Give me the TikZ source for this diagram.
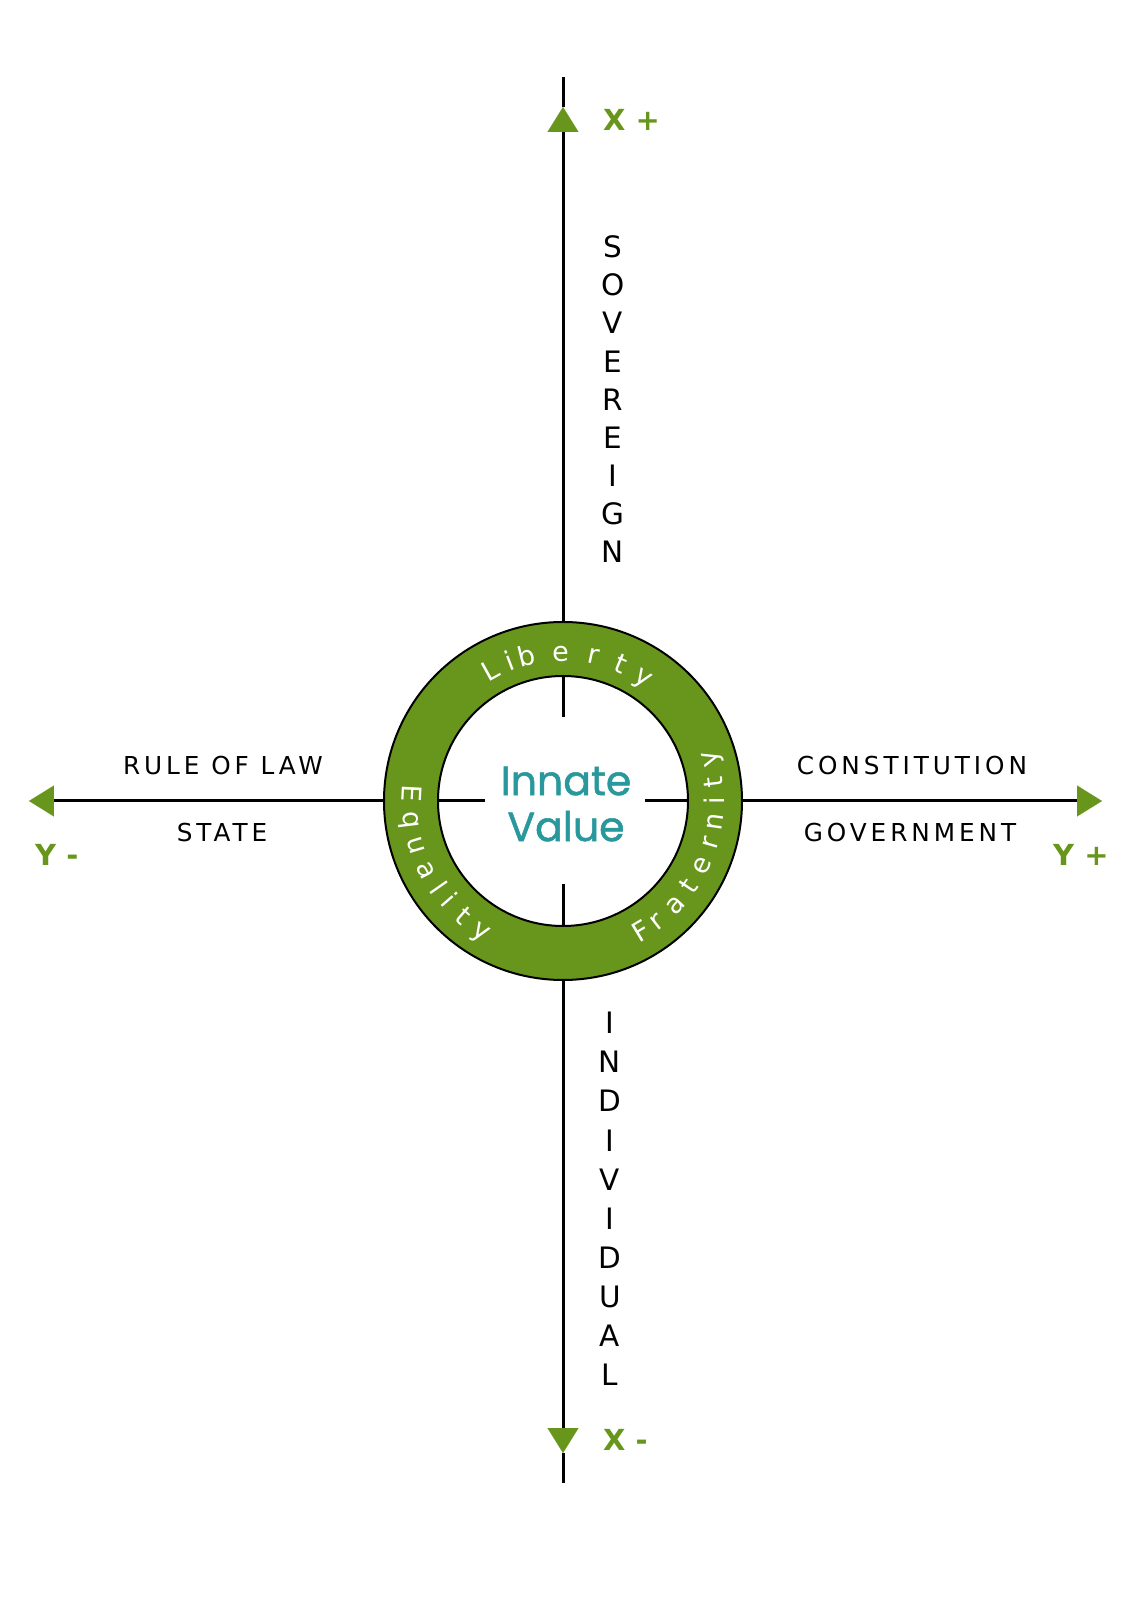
\documentclass[tikz,border=0pt]{standalone}
\usepackage{fontspec}
\setmainfont{DejaVu Sans}
\newfontfamily\titlefont[FakeBold=1.2]{Poppins}
\newfontfamily\trackfont[LetterSpace=16]{DejaVu Sans}
\usetikzlibrary{arrows.meta}

\definecolor{ringgreen}{RGB}{104,150,29}
\definecolor{valueteal}{RGB}{41,152,157}

\tikzset{
	axis/.style={line width=3pt, black},
	greentip/.style={-{Triangle[width=31pt,length=25pt,line width=0.1pt,color=ringgreen]}},
	axislabel/.style={anchor=west, inner sep=0pt, text=ringgreen, font=\fontsize{29}{30}\selectfont\bfseries},
	sidelabel/.style={inner sep=0pt, font=\fontsize{24.7}{26}\selectfont\trackfont},
	vletter/.style={inner sep=0pt, font=\fontsize{29.5}{30}\selectfont},
	ringletter/.style={anchor=base, inner sep=0pt, text=white, font=\fontsize{27}{28}\selectfont}
}

\begin{document}
\begin{tikzpicture}[auto, x=1pt, y=1pt]

	\useasboundingbox (-563,-799) rectangle (568,801);

	% the ring
	\node (outer) [circle, draw, line width=2pt, fill=ringgreen, minimum size=358pt, inner sep=0pt] at (0,0) {};
	\node (inner) [circle, draw, line width=2pt, fill=white, minimum size=250pt, inner sep=0pt] at (0,0) {};

	\node (value) [align=center, text=valueteal, font=\fontsize{41}{46}\selectfont\titlefont] at (3,-3) {Innate\\Value};

	% axes
	\coordinate (xptip) at (0,694);
	\coordinate (xpend) at (0,724);
	\coordinate (xmtip) at (0,-652);
	\coordinate (xmend) at (0,-682);
	\coordinate (ymtip) at (-534,0);
	\coordinate (yptip) at (539,0);

	\draw[axis, greentip] (outer.north) -- (xptip);
	\draw[axis] (xptip) -- (xpend);
	\draw[axis, greentip] (outer.south) -- (xmtip);
	\draw[axis] (xmtip) -- (xmend);
	\draw[axis, greentip] (outer.west) -- (ymtip);
	\draw[axis, greentip] (outer.east) -- (yptip);

	% stubs inside the ring
	\coordinate (stubn) at (0,84);
	\coordinate (stubs) at (0,-83);
	\coordinate (stubw) at (-78,0);
	\coordinate (stube) at (82,0);

	\draw[axis] (inner.north) -- (stubn);
	\draw[axis] (inner.south) -- (stubs);
	\draw[axis] (inner.west) -- (stubw);
	\draw[axis] (inner.east) -- (stube);

	\node (xplus) [axislabel] at (40,681) {X +};
	\node (xminus) [axislabel] at (40,-639) {X -};
	\node (yminus) [axislabel] at (-528,-54) {Y -};
	\node (yplus) [axislabel] at (490,-54) {Y +};

	\node (law) [sidelabel] at (-340,35) {RULE OF LAW};
	\node (state) [sidelabel] at (-341,-32) {STATE};
	\node (const) [sidelabel] at (349,35) {CONSTITUTION};
	\node (gov) [sidelabel] at (347,-32) {GOVERNMENT};

	% vertical words
	\foreach \l [count=\i from 0] in {S,O,V,E,R,E,I,G,N}
		\node (sov\i) [vletter] at (50,554-38.1*\i) {\l};
	\foreach \l [count=\i from 0] in {I,N,D,I,V,I,D,U,A,L}
		\node (ind\i) [vletter] at (47,-222-39.1*\i) {\l};

	% words on the ring
	\foreach \a/\l [count=\i] in {119/L,111/i,104/b,91/e,78/r,67/t,57/y}
		\node (lib\i) [ringletter, rotate=\a-90] at (\a:140) {\l};
	\foreach \a/\l [count=\i] in {177/E,187/q,197/u,207/a,215/l,221/i,229/t,238/y}
		\node (equ\i) [ringletter, rotate=\a+90] at (\a:161) {\l};
	\foreach \a/\l [count=\i] in {301/F,308/r,317/a,326/t,335/e,344/r,352/n,360/i,367/t,376/y}
		\node (fra\i) [ringletter, rotate=\a+90] at (\a:161) {\l};

\end{tikzpicture}
\end{document}
